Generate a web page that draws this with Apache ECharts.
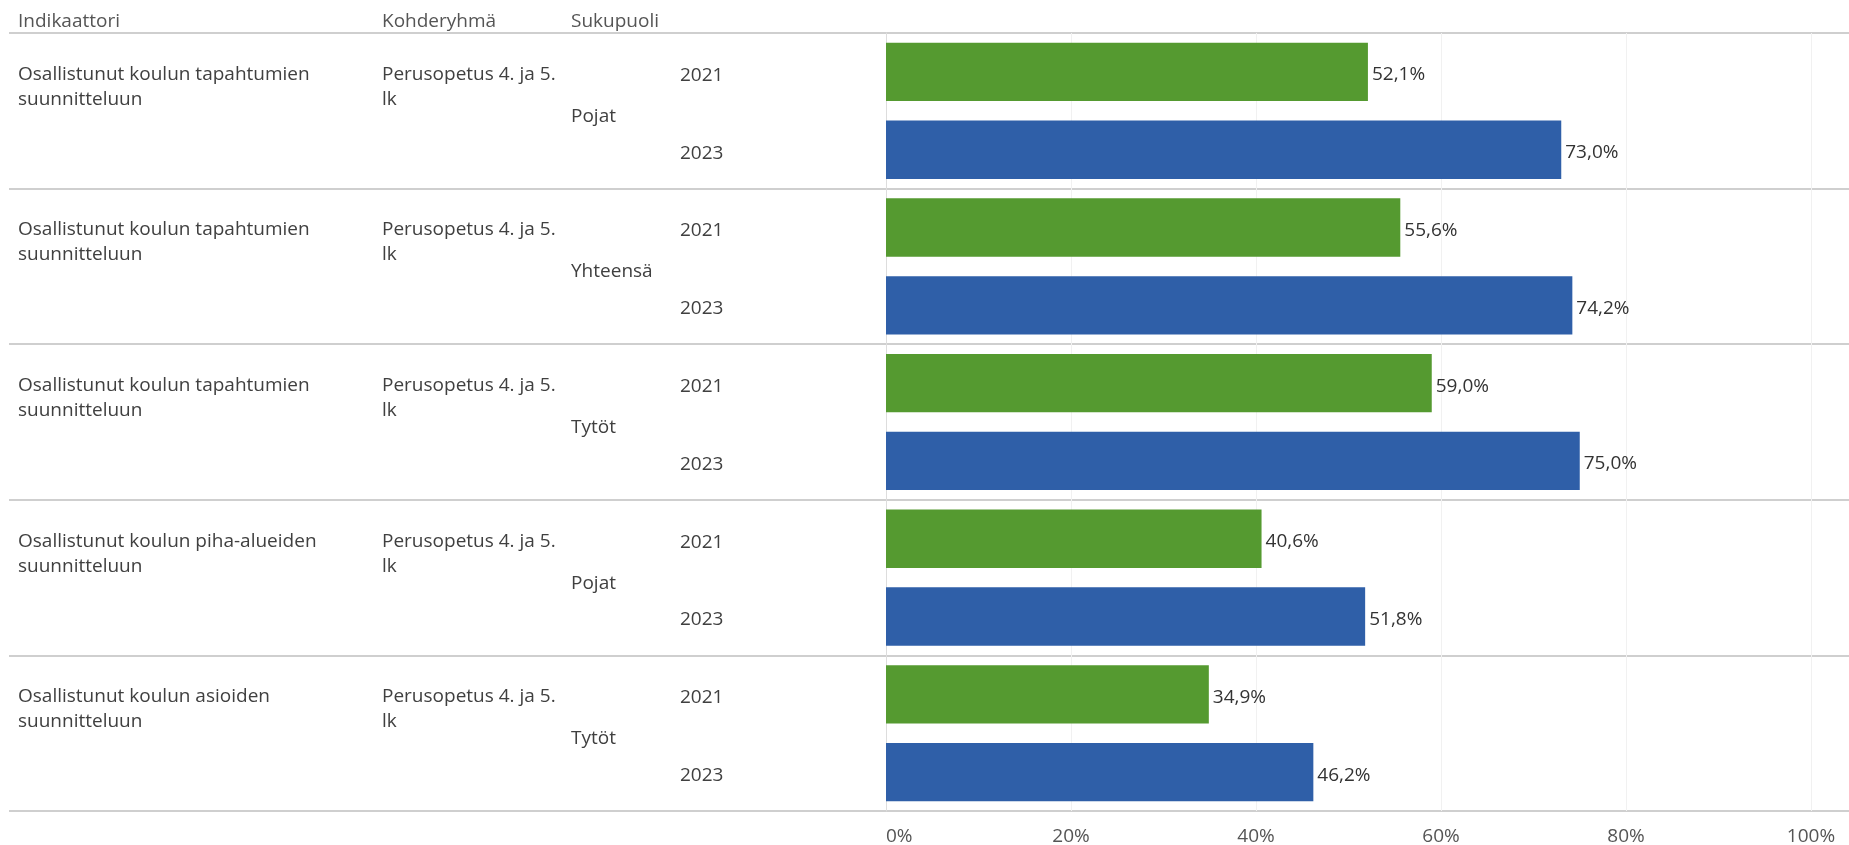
<!DOCTYPE html>
<html>
<head>
<meta charset="utf-8">
<script src="https://cdn.jsdelivr.net/npm/echarts@6/dist/echarts.min.js"></script>
<style>
  html, body { margin: 0; padding: 0; background: #ffffff; }
  #chart { width: 1849px; height: 845px; }
</style>
</head>
<body>
<div id="chart"></div>
<script>
// rows of the table, top to bottom
const indicators = [
  "Osallistunut koulun tapahtumien\nsuunnitteluun",
  "Osallistunut koulun tapahtumien\nsuunnitteluun",
  "Osallistunut koulun tapahtumien\nsuunnitteluun",
  "Osallistunut koulun piha-alueiden\nsuunnitteluun",
  "Osallistunut koulun asioiden\nsuunnitteluun"
];
const groups = [
  "Perusopetus 4. ja 5.\nlk",
  "Perusopetus 4. ja 5.\nlk",
  "Perusopetus 4. ja 5.\nlk",
  "Perusopetus 4. ja 5.\nlk",
  "Perusopetus 4. ja 5.\nlk"
];
const genders = ["Pojat", "Yhteensä", "Tytöt", "Pojat", "Tytöt"];
const years = ["2021", "2023"];
const values2021 = [52.1, 55.6, 59.0, 40.6, 34.9];
const values2023 = [73.0, 74.2, 75.0, 51.8, 46.2];
const xTicks = [0, 20, 40, 60, 80, 100];
const headers = ["Indikaattori", "Kohderyhmä", "Sukupuoli"];

const yearColors = ["#559a30", "#2f5fa8"];
const fontFamily = "'Open Sans', 'Noto Sans', sans-serif";
const fontSize = 19;

// one category per bar (row x year)
let barKeys = [];
let barData = [];
for (let i = 0; i < indicators.length; i++) {
  const vals = [values2021[i], values2023[i]];
  for (let j = 0; j < years.length; j++) {
    barKeys.push("r" + i + "-" + years[j]);
    barData.push({ value: vals[j], itemStyle: { color: yearColors[j] } });
  }
}
const rowKeys = indicators.map((x, i) => "row" + i);

const chart = echarts.init(document.getElementById("chart"));

// left-aligned text columns; the negative top padding puts the first line on the category centre
const labelBase = {
  show: true,
  interval: 0,
  color: "#404040",
  fontSize: fontSize,
  fontFamily: fontFamily,
  align: "left",
  verticalAlign: "top",
  lineHeight: 25,
};

const options = {
  animation: false,
  grid: [
    { left: 886, right: 38, top: 33, bottom: 34, outerBoundsMode: "none" },
    { left: 9, right: 0, top: 33, bottom: 34, outerBoundsMode: "none" },
  ],
  graphic: headers.map((h, i) => ({
    type: "text",
    left: [18, 382, 571][i],
    top: 12,
    style: { text: h, fill: "#555555", fontSize: fontSize, fontFamily: fontFamily },
  })),
  xAxis: [
    {
      type: "value",
      gridIndex: 0,
      min: xTicks[0],
      max: xTicks[xTicks.length - 1],
      interval: 20,
      axisLine: { show: false },
      axisTick: { show: false },
      splitLine: { show: true, lineStyle: { color: "#f1f1f1", width: 1 } },
      axisLabel: {
        color: "#555555",
        fontSize: fontSize,
        fontFamily: fontFamily,
        margin: 16,
        alignMinLabel: "left",
        formatter: "{value}%",
      },
    },
    { type: "value", gridIndex: 1, show: false },
  ],
  yAxis: [
    {
      // years, also the axis the bars use
      type: "category",
      gridIndex: 0,
      position: "left",
      inverse: true,
      data: barKeys,
      axisLine: { show: true, lineStyle: { color: "#dddddd", width: 1 } },
      axisTick: { show: false },
      axisLabel: Object.assign({}, labelBase, {
        margin: 206,
        padding: [-9, 0, 0, 0],
        formatter: (v, i) => years[i % 2],
      }),
    },
    {
      // indicator text
      type: "category",
      gridIndex: 0,
      position: "left",
      inverse: true,
      data: barKeys,
      axisLine: { show: false },
      axisTick: { show: false },
      axisLabel: Object.assign({}, labelBase, {
        padding: [-10, 0, 0, 0],
        margin: 868,
        formatter: (v, i) => (i % 2 === 0 ? indicators[i / 2] : ""),
      }),
    },
    {
      // target group
      type: "category",
      gridIndex: 0,
      position: "left",
      inverse: true,
      data: barKeys,
      axisLine: { show: false },
      axisTick: { show: false },
      axisLabel: Object.assign({}, labelBase, {
        padding: [-10, 0, 0, 0],
        margin: 504,
        formatter: (v, i) => (i % 2 === 0 ? groups[i / 2] : ""),
      }),
    },
    {
      // gender, one per row
      type: "category",
      gridIndex: 0,
      position: "left",
      inverse: true,
      data: rowKeys,
      axisLine: { show: false },
      axisTick: { show: false },
      axisLabel: Object.assign({}, labelBase, {
        margin: 315,
        padding: [-7, 0, 0, 0],
        formatter: (v, i) => genders[i],
      }),
    },
    {
      // row separator lines across the whole width
      type: "category",
      gridIndex: 1,
      inverse: true,
      data: rowKeys,
      axisLine: { show: false },
      axisTick: { show: false },
      axisLabel: { show: false },
      splitLine: { show: true, lineStyle: { color: "#cfcfcf", width: 2 } },
    },
  ],
  series: [
    {
      type: "bar",
      xAxisIndex: 0,
      yAxisIndex: 0,
      barCategoryGap: "25%",
      data: barData,
      label: {
        show: true,
        position: "right",
        distance: 4,
        offset: [0, 3],
        color: "#333333",
        fontSize: fontSize,
        fontFamily: fontFamily,
        formatter: (p) => p.value.toFixed(1).replace(".", ",") + "%",
      },
    },
  ],
};

chart.setOption(options);
</script>
</body>
</html>
